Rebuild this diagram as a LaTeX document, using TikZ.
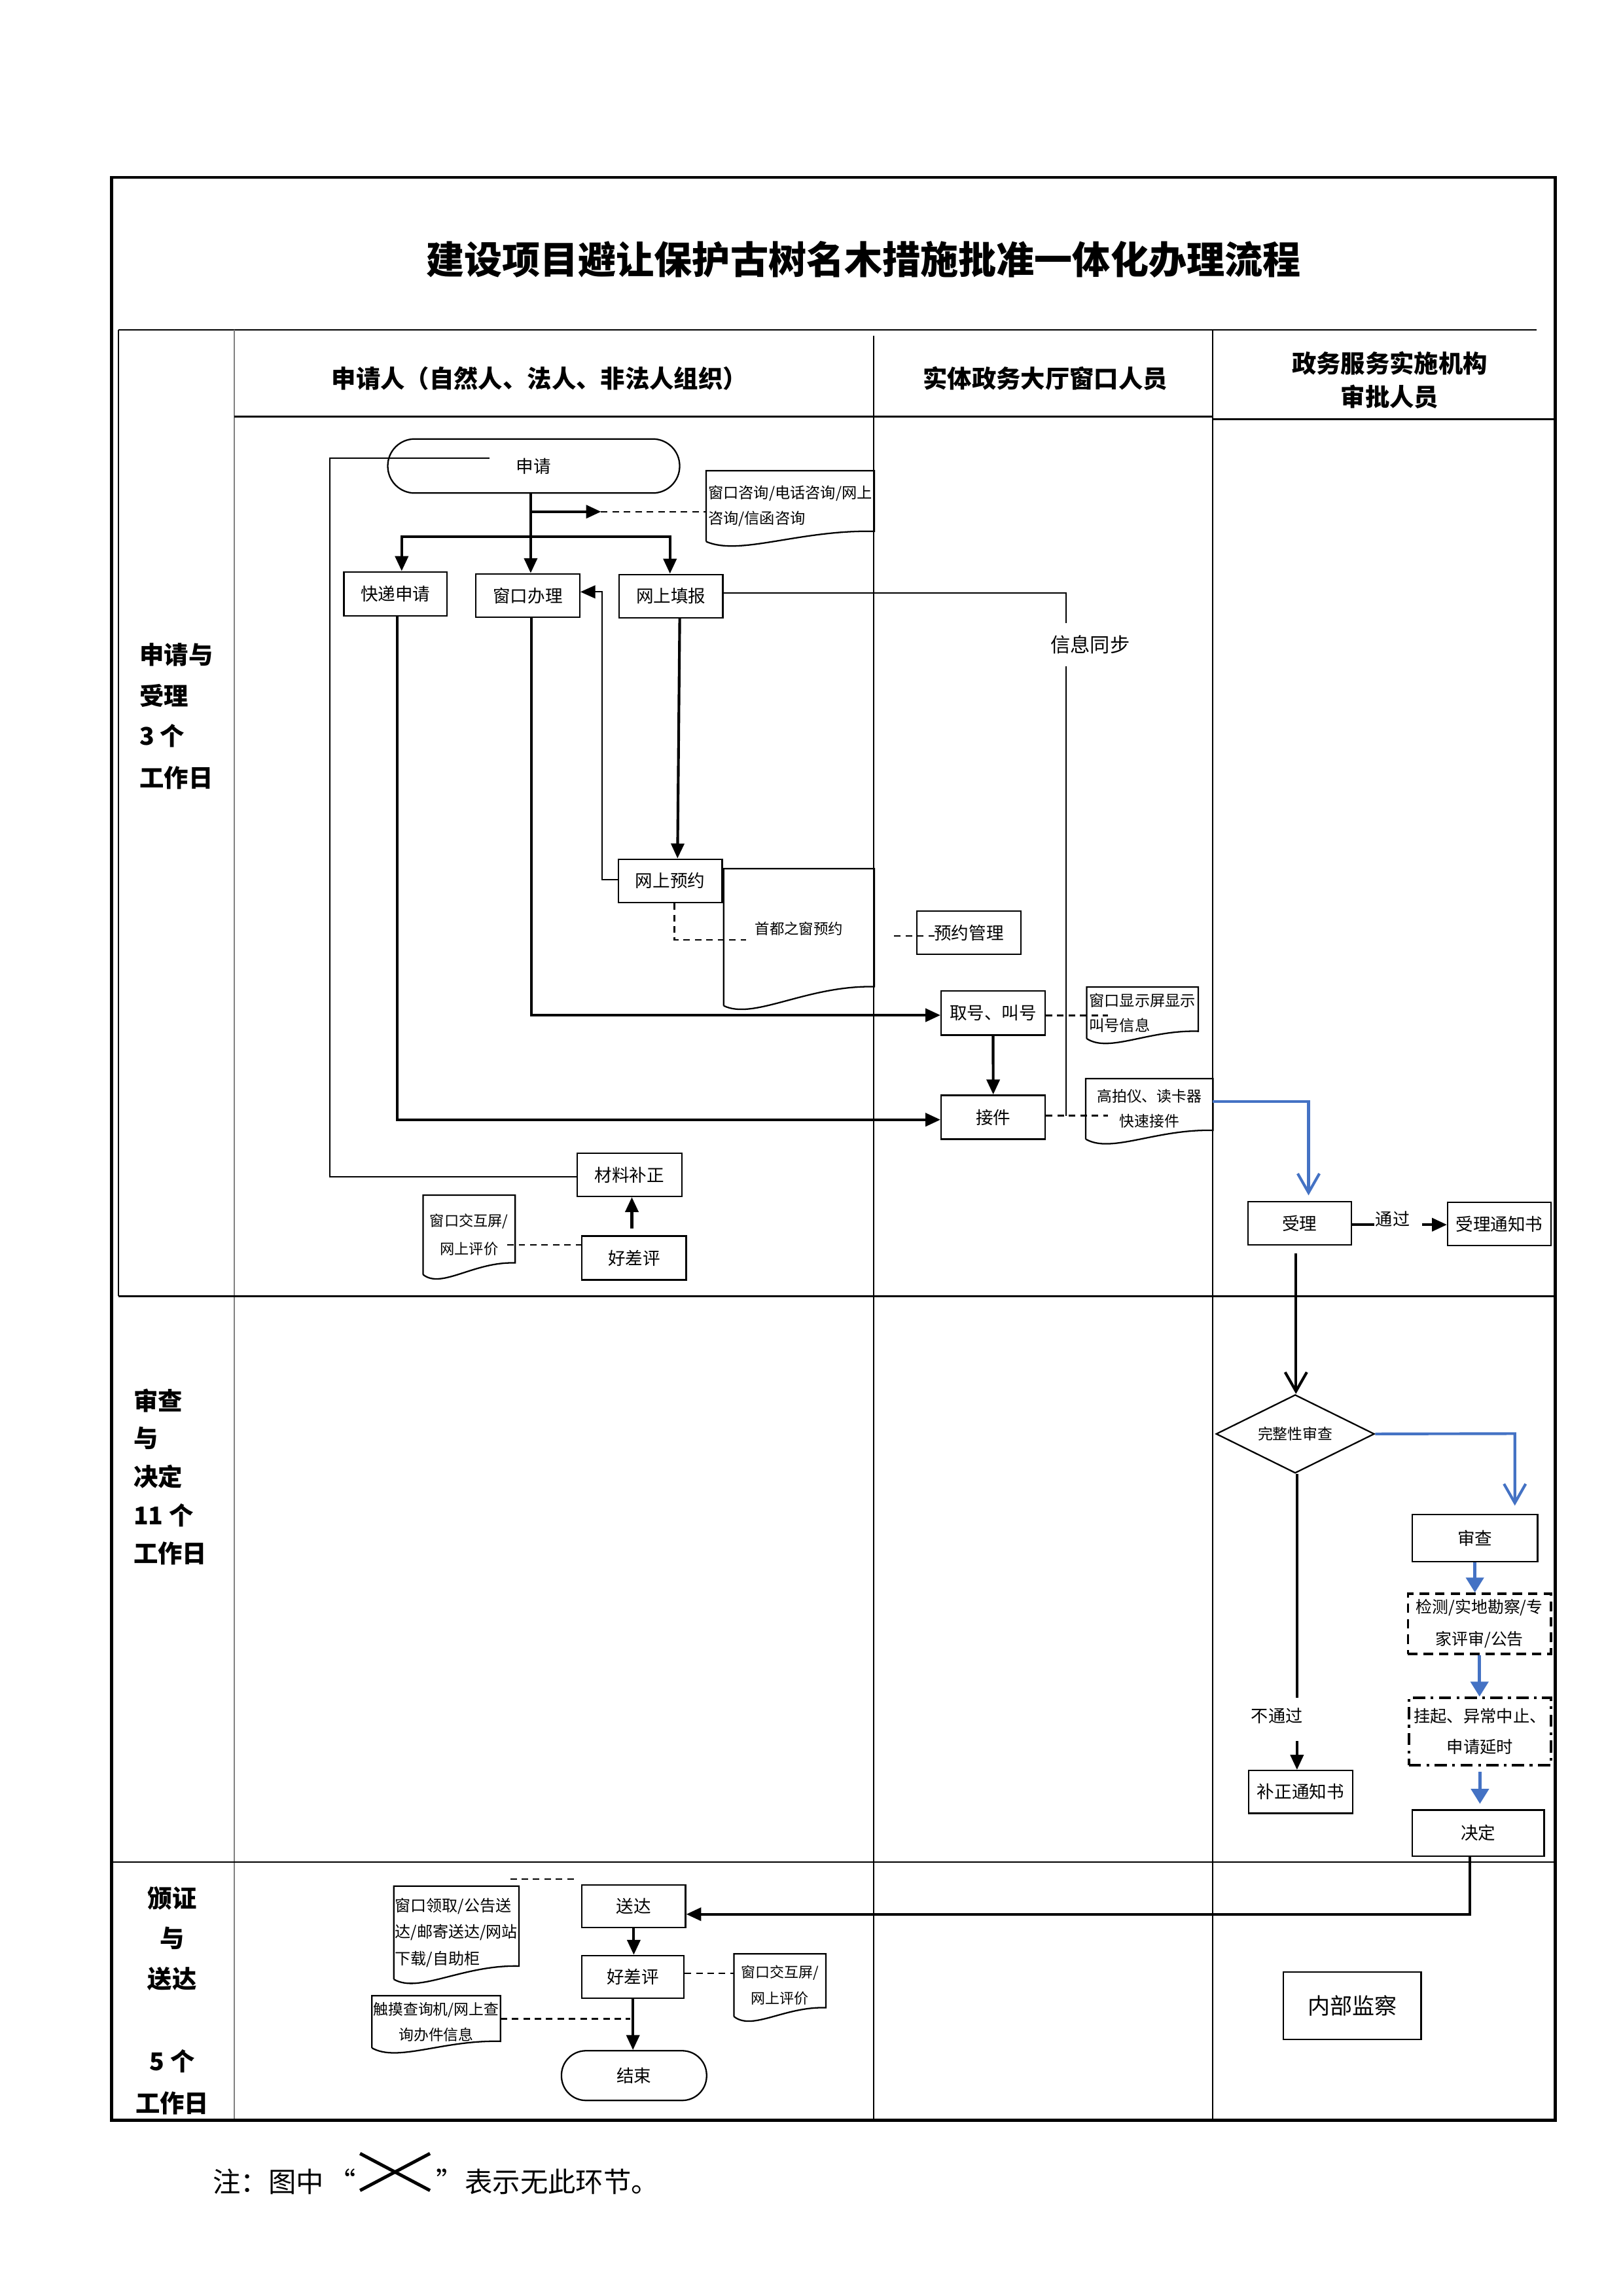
\documentclass[tikz,border=0pt]{standalone}
\usepackage{fontspec}
\setmainfont{Noto Sans CJK SC}
\usetikzlibrary{arrows.meta,calc,shapes.geometric}
\definecolor{myblue}{HTML}{4472C4}
\newcommand{\fsz}[2]{\fontsize{#1}{#2}\selectfont}
\newcommand{\myU}{0.5398pt}
\newcommand{\mybox}[7][]{\node[boxst,#1,minimum width={(#5-#3)*\myU},minimum height={(#6-#4)*\myU}] (#2) at ({(#3+#5)/2},{(#4+#6)/2}) {#7};}
\newcommand{\docshape}[9]{%
  \node[docst,font=#8,align=#7,minimum width={(#4-#2)*\myU},minimum height={(#5-#3)*\myU}] (#1) at ({(#2+#4)/2},{(#3+#5)/2}) {#9};
  \draw[docline] (#1.south west) -- (#1.north west) -- (#1.north east) -- ([yshift=#6*\myU]#1.south east)
    .. controls ($(#1.south west)!0.55!(#1.south east)+(0,{-#6-1})$) and ($(#1.south west)!0.2!(#1.south east)+(0,10)$) .. (#1.south west);
}
\begin{document}
\begin{tikzpicture}[x=0.5398pt,y=-0.5398pt,
  boxst/.style={draw,line width=0.55pt,inner sep=0pt,align=center,font=\fsz{6.4}{7.7}},
  docst/.style={inner sep=0pt},
  docline/.style={line width=0.55pt},
  conn/.style={line width=1pt},
  thinln/.style={line width=0.5pt},
  tipb/.style={-{Triangle[length=5.5pt,width=4.8pt]}},
  arr/.style={conn,tipb},
  dsh/.style={line width=0.6pt,dash pattern=on 2.4pt off 1.8pt},
  vblue/.style={draw=myblue,line width=1pt,-{Straight Barb[length=7pt,width=8pt]}},
  barr/.style={draw=myblue,line width=1.1pt,-{Triangle[length=5.5pt,width=6.5pt]}},
  hdr/.style={inner sep=0pt,font=\fsz{9}{11}\bfseries},
  ph/.style={inner sep=0pt,font=\fsz{9}{11}\bfseries},
  lbl/.style={inner sep=0pt,font=\fsz{6.3}{7.5}},
  jcst/.style={line width=0.9pt,dash pattern=on 3.5pt off 2.2pt},
  gqst/.style={line width=0.9pt,dash pattern=on 4.5pt off 2pt on 1pt off 2pt},
]
\useasboundingbox (0,0) rectangle (1107,1566);
\fill[white] (0,0) rectangle (1107,1566);

% ---- table lines ----
\draw[line width=0.7pt] (81,225) -- (1048,225);
\draw[line width=0.5pt] (81,225) -- (81,884);
\draw[line width=0.5pt,gray] (160,225) -- (160,1446);
\draw[line width=0.7pt] (160,284) -- (827,284);
\draw[line width=0.7pt] (827,286) -- (1061,286);
\draw[line width=0.5pt] (596,229) -- (596,1446);
\draw[line width=0.5pt] (827,225) -- (827,1446);
\draw[line width=0.6pt] (81,884) -- (1061,884);
\draw[line width=0.6pt] (76,1270) -- (1061,1270);
\draw[line width=1.1pt] (76,121) rectangle (1061,1446);

% ---- title & headers ----
\node[inner sep=0pt,font=\fsz{14}{17}\bfseries] (title) at (589,177) {建设项目避让保护古树名木措施批准一体化办理流程};
\node[hdr] (h1) at (368,258) {申请人（自然人、法人、非法人组织）};
\node[hdr] (h2) at (713,258) {实体政务大厅窗口人员};
\node[hdr,align=center,font=\fsz{9}{12.4}\bfseries] (h3) at (948,259.3) {政务服务实施机构\\审批人员};

% ---- phase labels ----
\node[ph,anchor=west] (p1a) at (95,446.4) {申请与};
\node[ph,anchor=west] (p1b) at (95,474.7) {受理};
\node[ph,anchor=west] (p1c) at (95,502) {3 个};
\node[ph,anchor=west] (p1d) at (95,530.5) {工作日};
\node[ph,anchor=west] (p2a) at (90.8,955.4) {审查};
\node[ph,anchor=west] (p2b) at (90.8,981) {与};
\node[ph,anchor=west] (p2c) at (90.8,1007) {决定};
\node[ph,anchor=west] (p2d) at (90.8,1033.5) {11 个};
\node[ph,anchor=west] (p2e) at (90.8,1059.5) {工作日};
\node[ph] (p3a) at (117.5,1294.6) {颁证};
\node[ph] (p3b) at (117.5,1322) {与};
\node[ph] (p3c) at (117.5,1349.7) {送达};
\node[ph] (p3d) at (117.5,1406) {5 个};
\node[ph] (p3e) at (117.5,1434.5) {工作日};

% ---- phase 1 nodes ----
\mybox[rounded corners=9.9pt]{sq}{264.5}{299.4}{463.6}{336.3}{申请}
\mybox{kd}{234.6}{390}{305}{420}{快递申请}
\mybox{ck}{324.6}{391.4}{395.4}{421}{窗口办理}
\mybox{ws}{422.3}{391.8}{493}{421.4}{网上填报}
\mybox{wy}{421.7}{586}{492.6}{615.6}{网上预约}
\mybox{cl}{393.6}{786.5}{465}{816}{材料补正}
\mybox{hp1}{397}{843}{468}{873}{好差评}
\mybox{qh}{642}{676}{712.8}{706}{取号、叫号}
\mybox{jj}{642}{747}{713}{777}{接件}
\mybox{yg}{625.5}{621.4}{696.3}{651}{预约管理}
\mybox{sl}{851.3}{819.5}{921.7}{849}{受理}
\mybox{tz}{987.5}{820}{1058}{849.5}{受理通知书}
\docshape{d1}{482}{321.4}{596}{369}{7}{left}{\fsz{5.6}{9.2}}{窗口咨询/电话咨询/网上\\咨询/信函咨询}
\docshape{d2}{494}{592.9}{596}{685.6}{13}{center}{\fsz{5.4}{6.5}}{首都之窗预约\\\mbox{}}
\docshape{d3}{741.6}{673.5}{817}{708}{5}{left}{\fsz{5.6}{9.2}}{窗口显示屏显示\\叫号信息}
\docshape{d4}{741}{736}{827}{776.6}{6}{center}{\fsz{5.5}{9.2}}{高拍仪、读卡器\\快速接件}
\docshape{d5}{289}{815.5}{351}{869}{8}{center}{\fsz{5.35}{10.5}}{窗口交互屏/\\网上评价}

% ---- phase 2 nodes ----
\node[draw,diamond,aspect=2,line width=0.55pt,inner sep=0pt,minimum width={108*\myU},minimum height={53.5*\myU},font=\fsz{5.5}{6.6}] (dm) at (883.5,978) {完整性审查};
\mybox{sc}{963.3}{1033}{1048.8}{1065}{审查}
\mybox[jcst,font=\fsz{6}{11.8}]{jc}{960.4}{1087}{1058}{1128}{检测/实地勘察/专\\家评审/公告}
\mybox[gqst,font=\fsz{6.1}{11.3}]{gq}{961}{1158}{1058}{1204}{挂起、异常中止、\\申请延时}
\mybox{jd}{963.3}{1234.5}{1053.3}{1266}{决定}
\mybox{bz}{851.7}{1207.6}{922.6}{1236.7}{补正通知书}

% ---- phase 3 nodes ----
\mybox{sd}{397}{1285.7}{467.6}{1314.7}{送达}
\mybox{hp2}{397}{1333.8}{466.5}{1363}{好差评}
\mybox[rounded corners=9pt]{js}{383}{1398.7}{482}{1432.6}{结束}
\docshape{d6}{501}{1333}{563}{1375}{6}{center}{\fsz{5.3}{9.6}}{窗口交互屏/\\网上评价}
\docshape{d7}{254}{1361.6}{341}{1396.4}{4.5}{center}{\fsz{5.5}{9.4}}{触摸查询机/网上查\\询办件信息}
\docshape{d8}{269}{1286.8}{353.6}{1349.6}{9}{left}{\fsz{5.8}{9.7}}{窗口领取/公告送\\达/邮寄送达/网站\\下载/自助柜}
\mybox[font=\fsz{8.2}{9.8}]{nb}{875.4}{1345}{969.3}{1391}{内部监察}

% ---- phase 1 connectors ----
\coordinate (b1) at (362,349);
\coordinate (b2) at (362,366);
\coordinate (b1t) at (410,349);
\coordinate (kx) at (274,366);
\coordinate (wx) at (457,366);
\draw[conn] (sq.south -| b1) -- (b2);
\draw[arr] (b2) -- (ck.north -| b2);
\draw[arr] (b1) -- (b1t);
\draw[dsh] (b1t) -- (d1.west |- b1t);
\draw[arr] (b2) -- (kx) -- (kx |- kd.north);
\draw[arr] (b2) -- (wx) -- (wx |- ws.north);
\coordinate (r1) at (410.5,600);
\coordinate (r2) at (410.5,403.7);
\draw[thinln,tipb] (wy.west |- r1) -- (r1) -- (r2) -- (ck.east |- r2);
\draw[arr] ($(ws.south)+(6,0)$) -- ($(wy.north)+(5,0)$);
\coordinate (s1) at (727,404.3);
\coordinate (s2) at (727,761);
\draw[thinln] (ws.east |- s1) -- (s1) -- (s2);
\node[fill=white,inner xsep=1pt,inner ysep=4.5pt,font=\fsz{7.3}{8.7}] (xx) at (743.6,439.7) {信息同步};
\coordinate (c1) at (362.5,692.4);
\draw[arr] (ck.south -| c1) -- (c1) -- (qh.west |- c1);
\coordinate (c2) at (270.8,763.7);
\draw[arr] (kd.south -| c2) -- (c2) -- (jj.west |- c2);
\draw[arr] (qh.south) -- (jj.north);
\coordinate (e1) at (755.7,692.5);
\draw[dsh] (qh.east |- e1) -- (e1);
\coordinate (e2) at (755.7,761);
\draw[dsh] (jj.east |- e2) -- (e2);
\coordinate (e3) at (460,641);
\coordinate (e4) at (509,641);
\draw[dsh] (wy.south -| e3) -- (e3) -- (e4);
\coordinate (e5) at (610,638.4);
\coordinate (e6) at (637.6,638.4);
\draw[dsh] (e5) -- (e6);
\coordinate (l1) at (225,802.7);
\coordinate (l2) at (225,312.5);
\coordinate (l3) at (334,312.5);
\draw[thinln] (cl.west |- l1) -- (l1) -- (l2) -- (l3);
\coordinate (u1) at (431,838);
\draw[arr,shorten <=2.5pt] (hp1.north -| u1) -- (cl.south -| u1);
\coordinate (e7) at (346,849);
\draw[dsh] (e7) -- (hp1.west |- e7);
\coordinate (g1) at (892.6,751.4);
\draw[vblue,shorten >=2pt] (d4.east |- g1) -- (g1) -- (g1 |- sl.north);
\node[lbl] (tg) at (950,831.5) {通过};
\coordinate (t1) at (937.4,835.3);
\coordinate (t2) at (970,835.3);
\draw[conn] (sl.east |- t1) -- (t1);
\draw[arr] (t2) -- (tz.west |- t2);
\coordinate (m1) at (884,855);
\draw[conn,-{Straight Barb[length=7pt,width=8pt]},shorten <=3pt] (sl.south -| m1) -- (m1 |- dm.north);

% ---- phase 2 connectors ----
\coordinate (k1) at (1033.3,977.8);
\draw[vblue,shorten >=3pt] (dm.east) -- (k1) -- (k1 |- sc.north);
\draw[barr] (sc.south) -- (sc.south |- jc.north);
\draw[barr] (jc.south) -- (jc.south |- gq.north);
\draw[barr,shorten <=2pt,shorten >=2pt] (gq.south) -- (gq.south |- jd.north);
\coordinate (n1) at (884.7,1158);
\coordinate (n2) at (884.7,1187.5);
\draw[conn] (dm.south -| n1) -- (n1);
\node[lbl] (ntg) at (871,1170.4) {不通过};
\draw[arr] (n2) -- (n2 |- bz.north);

% ---- phase 3 connectors ----
\coordinate (f1) at (1002.5,1305.6);
\draw[arr] (jd.south -| f1) -- (f1) -- (sd.east |- f1);
\draw[arr] (sd.south) -- (sd.south |- hp2.north);
\coordinate (f3) at (501,1346);
\draw[dsh] (hp2.east |- f3) -- (d6.west |- f3);
\draw[arr] (hp2.south) -- (hp2.south |- js.north);
\coordinate (f4) at (430,1377);
\draw[dsh] (d7.east |- f4) -- (f4);
\coordinate (f5) at (348,1281.7);
\coordinate (f6) at (394.5,1281.7);
\draw[dsh] (f5) -- (f6);

% ---- note ----
\node[font=\fsz{10.2}{12},anchor=east,inner sep=0pt] (nt1) at (243,1488) {注：图中\hspace{0.15em}“};
\node[font=\fsz{10.2}{12},anchor=west,inner sep=0pt] (nt2) at (297,1488) {”\hspace{0.05em}表示无此环节。};
\coordinate (x1) at (245.6,1468.8);
\coordinate (x2) at (293.3,1494);
\coordinate (x3) at (245.6,1494);
\coordinate (x4) at (293.3,1468.8);
\draw[line width=1.2pt] (x1) -- (x2);
\draw[line width=1.2pt] (x3) -- (x4);
\end{tikzpicture}
\end{document}
